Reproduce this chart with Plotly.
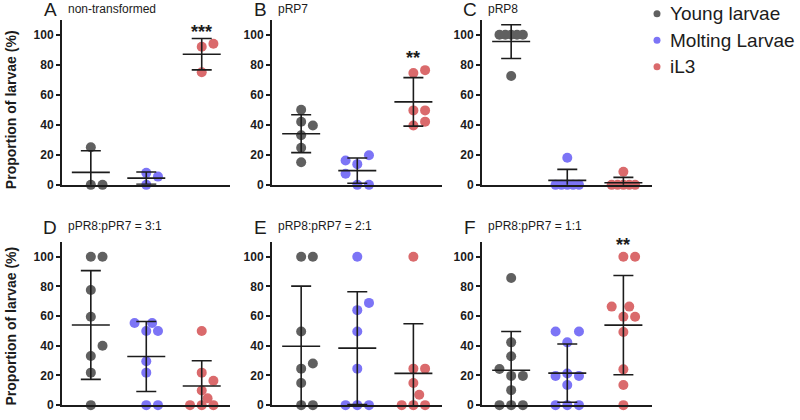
import numpy as np
import plotly.graph_objects as go

# ---------------- data ----------------
groups = ["Young larvae", "Molting Larvae", "iL3"]
colors = ["#606060", "#7C74F6", "#DA6A6C"]
panel_letters = ["A", "B", "C", "D", "E", "F"]
panel_titles = ["non-transformed", "pRP7", "pRP8",
                "pPR8:pPR7 = 3:1", "pRP8:pRP7 = 2:1", "pPR8:pPR7 = 1:1"]
significance = ["***", "**", "", "", "", "**"]   # marks above the iL3 group
y_ticks = [0, 20, 40, 60, 80, 100]
y_title = "Proportion of larvae (%)"

A_young = [0, 0, 25]
A_molt = [0, 5.5, 8]
A_il3 = [75, 92, 94]
B_young = [15.1, 24.7, 33, 42, 39.5, 50]
B_molt = [0, 0, 13.8, 19.7, 16.2, 7.4]
B_il3 = [39.5, 42.1, 49.6, 49.6, 74.5, 76.4]
C_young = [72.5, 100, 100, 100, 100, 100]
C_molt = [0, 0, 0, 0, 0, 18]
C_il3 = [0, 0, 0, 0, 0, 8.7]
D_young = [0, 21.9, 33.1, 40, 59.6, 77.6, 100, 100]
D_molt = [0, 0, 21.9, 29.6, 50, 50, 55.3, 55.3]
D_il3 = [0, 0, 0, 4.6, 9.9, 16.4, 21.9, 50]
E_young = [0, 0, 14.9, 24.6, 28.1, 49.6, 100, 100]
E_molt = [0, 0, 0, 24.6, 49.6, 64, 68.9, 100]
E_il3 = [0, 0, 0, 7, 14.9, 24.6, 24.6, 100]
F_young = [0, 0, 0, 10.1, 19.7, 19.7, 24.3, 32.9, 42.3, 85.7]
F_molt = [0, 0, 0, 13.6, 19.7, 19.7, 21.3, 42.3, 49.6, 49.6]
F_il3 = [0, 13.6, 24.1, 49.3, 59.6, 59.6, 66.4, 66.4, 100, 100]

panels = [
    (A_young, A_molt, A_il3),
    (B_young, B_molt, B_il3),
    (C_young, C_molt, C_il3),
    (D_young, D_molt, D_il3),
    (E_young, E_molt, E_il3),
    (F_young, F_molt, F_il3),
]

# ---------------- layout constants ----------------
W, H = 800, 420
FONT = "Arial, Liberation Sans, sans-serif"
INK = "#1c1c1c"
col_px = [(62, 230), (272, 442), (482, 652)]
row_px = [(20, 188), (246, 412)]
XR = [-0.52, 2.51]
YR = [0, 110]
DOT_GAP = 11.7      # px between neighbouring dots in a row
MEAN_HALF = 19      # px half width of mean line
CAP_HALF = 10       # px half width of SD caps
COLLIDE = 11.4      # px vertical distance under which dots share a row


def swarm(vals, px_per_unit):
    tries = [0, 1, -1, 0.5, -0.5, 1.5, -1.5, 2, -2]
    placed = []
    slots = []
    for v in vals:
        chosen = tries[-1]
        for s in tries:
            if all(not (ps == s and abs(pv - v) * px_per_unit < COLLIDE)
                   for pv, ps in placed):
                chosen = s
                break
        placed.append((v, chosen))
        slots.append(chosen)
    return slots


fig = go.Figure()
annotations = []
shapes = []

for p in range(6):
    r, c = divmod(p, 3)
    x0, x1 = col_px[c]
    yt, yb = row_px[r]
    px_x = (x1 - x0) / (XR[1] - XR[0])
    px_y = (yb - yt) / (YR[1] - YR[0])
    sfx = "" if p == 0 else str(p + 1)
    xa, ya = "x" + sfx, "y" + sfx

    fig.update_layout(**{
        "xaxis" + sfx: dict(domain=[x0 / W, x1 / W], range=XR, anchor=ya,
                            showline=True, linewidth=2, linecolor=INK,
                            showticklabels=False, ticks="", showgrid=False,
                            zeroline=False, fixedrange=True),
        "yaxis" + sfx: dict(domain=[1 - yb / H, 1 - yt / H], range=YR, anchor=xa,
                            showline=True, linewidth=2, linecolor=INK,
                            tickvals=y_ticks, ticks="outside", ticklen=4,
                            tickwidth=1.5, tickcolor=INK,
                            tickfont=dict(family=FONT, size=12, color=INK, weight="bold"),
                            showgrid=False, zeroline=False, fixedrange=True),
    })

    # dots
    for g, vals in enumerate(panels[p]):
        slots = swarm(vals, px_y)
        xs = [g + s * DOT_GAP / px_x for s in slots]
        fig.add_trace(go.Scatter(
            x=xs, y=vals, mode="markers",
            marker=dict(size=10, color=colors[g], line=dict(width=0)),
            cliponaxis=False, xaxis=xa, yaxis=ya, name=groups[g],
            showlegend=False, hoverinfo="y"))

    # mean and SD
    for g, vals in enumerate(panels[p]):
        m = float(np.mean(vals))
        sd = float(np.std(vals, ddof=1))
        hw = MEAN_HALF / px_x
        fig.add_trace(go.Scatter(
            x=[g - hw, g + hw], y=[m, m], mode="lines",
            line=dict(color=INK, width=1.6), xaxis=xa, yaxis=ya,
            showlegend=False, hoverinfo="skip"))
        fig.add_trace(go.Scatter(
            x=[g], y=[m], mode="markers",
            marker=dict(size=1, color="rgba(0,0,0,0)"),
            error_y=dict(type="data", array=[sd], color=INK, thickness=1.6,
                         width=CAP_HALF),
            xaxis=xa, yaxis=ya, showlegend=False, hoverinfo="skip"))

    # significance
    if significance[p]:
        top = max(panels[p][2])
        annotations.append(dict(
            x=2, y=top + 8, xref=xa, yref=ya, text=significance[p],
            showarrow=False, xanchor="center", yanchor="middle",
            font=dict(family=FONT, size=18, color=INK, weight="bold")))

    # panel letter and title
    letter_y = 10 if r == 0 else 231
    annotations.append(dict(
        x=(x0 - 12) / W, y=1 - letter_y / H, xref="paper", yref="paper",
        text=panel_letters[p], showarrow=False, xanchor="center", yanchor="middle",
        font=dict(family=FONT, size=19, color=INK)))
    annotations.append(dict(
        x=(x0 + 4) / W, y=1 - (letter_y - 1) / H, xref="paper", yref="paper",
        text=panel_titles[p], showarrow=False, xanchor="left", yanchor="middle",
        font=dict(family=FONT, size=12, color=INK)))

# y-axis titles
for yc in (112, 332):
    annotations.append(dict(
        x=11 / W, y=1 - yc / H, xref="paper", yref="paper", text=y_title,
        textangle=-90, showarrow=False, xanchor="center", yanchor="middle",
        font=dict(family=FONT, size=14, color=INK, weight="bold")))

# legend (drawn manually)
for g, name in enumerate(groups):
    cy = 14 + 27 * g
    shapes.append(dict(
        type="circle", xref="paper", yref="paper",
        xsizemode="pixel", ysizemode="pixel",
        xanchor=657 / W, yanchor=1 - cy / H,
        x0=-3.5, x1=3.5, y0=-3.5, y1=3.5,
        fillcolor=colors[g], line=dict(width=0)))
    annotations.append(dict(
        x=668 / W, y=1 - cy / H, xref="paper", yref="paper", text=name,
        showarrow=False, xanchor="left", yanchor="middle",
        font=dict(family=FONT, size=19, color=INK)))

fig.update_layout(
    autosize=True,
    margin=dict(l=0, r=0, t=0, b=0, pad=0),
    paper_bgcolor="white", plot_bgcolor="white",
    showlegend=False,
    annotations=annotations, shapes=shapes,
    font=dict(family=FONT, color=INK),
)

post = (
    "document.documentElement.style.margin='0';"
    "document.documentElement.style.overflow='hidden';"
    "document.body.style.margin='0';"
    "document.body.style.overflow='hidden';"
    "var gd=document.getElementById('{plot_id}');"
    "gd.style.width='100vw';gd.style.height='100vh';"
    "Plotly.Plots.resize(gd);"
)

fig.write_html("out.html",
               default_width="100vw", default_height="100vh",
               config={"displayModeBar": False, "responsive": True},
               post_script=post)
